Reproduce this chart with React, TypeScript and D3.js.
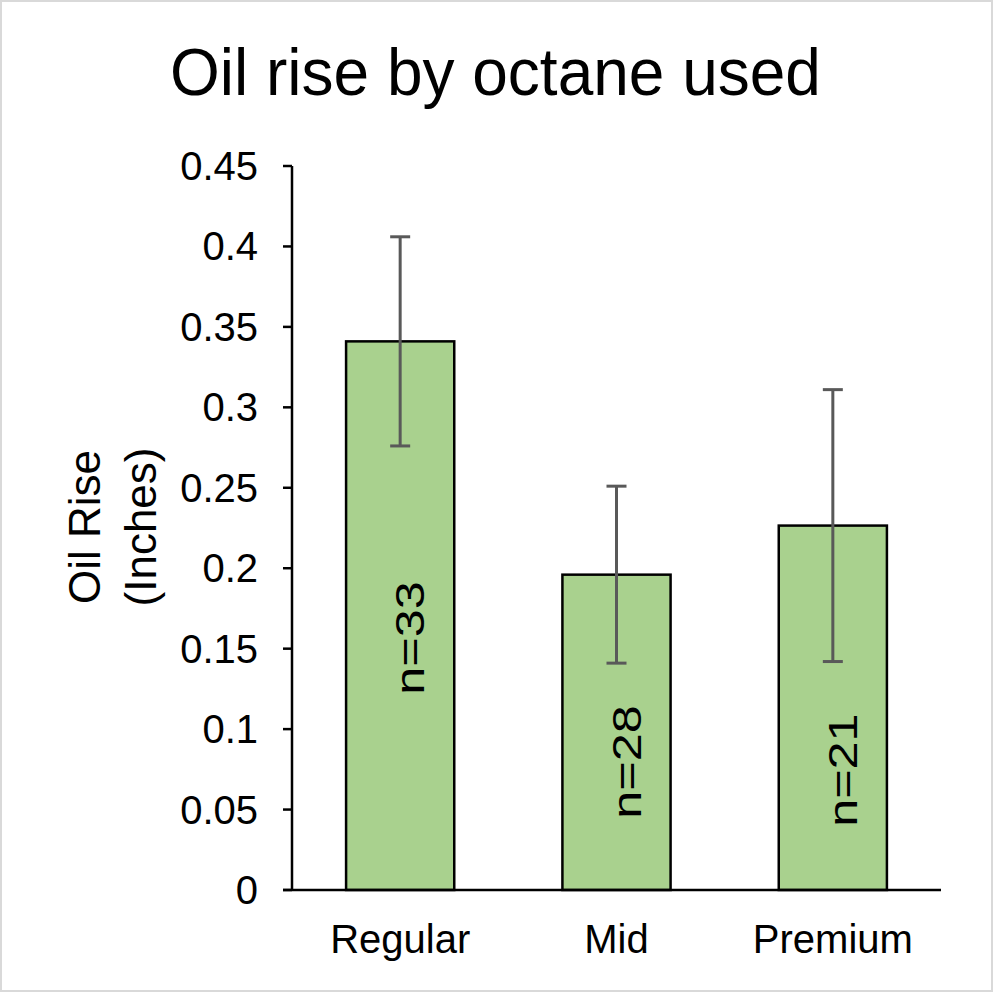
import React from "react";
import * as d3 from "d3";

const categories = ["Regular", "Mid", "Premium"];
const means = [0.341, 0.196, 0.2265];
const errors = [0.065, 0.055, 0.0845];
const nLabels = ["n=33", "n=28", "n=21"];
const nLabelAt = [0.1566, 0.0796, 0.0745];
const yTicks = [0, 0.05, 0.1, 0.15, 0.2, 0.25, 0.3, 0.35, 0.4, 0.45];
const yTickLabels = ["0", "0.05", "0.1", "0.15", "0.2", "0.25", "0.3", "0.35", "0.4", "0.45"];
const title = "Oil rise by octane used";
const yTitleLines = ["Oil Rise", "(Inches)"];

const W = 993;
const H = 992;
const M = { left: 292, right: 941, top: 166, bottom: 890 };
const FONT = "'Liberation Sans', Arial, sans-serif";

export default function App() {
  const x = d3.scaleBand<string>().domain(categories).range([M.left, M.right]).paddingInner(0.5).paddingOuter(0.25);
  const y = d3.scaleLinear().domain([0, 0.45]).range([M.bottom, M.top]);
  const bw = x.bandwidth();
  return (
    <svg width={W} height={H} style={{ position: "absolute", left: 0, top: 0, background: "#fff" }}>
      <rect x={1} y={1} width={W - 2} height={H - 2} fill="#fff" stroke="#d9d9d9" strokeWidth={2} />
      <text transform="translate(495.5,95) scale(1,1.05)" textAnchor="middle" fontFamily={FONT} fontSize={64} fill="#000">{title}</text>
      {yTitleLines.map((t, i) => (
        <text key={t} transform={`translate(${100 + i * 56},527) rotate(-90)`} textAnchor="middle" fontFamily={FONT} fontSize={44} fill="#000">{t}</text>
      ))}
      {yTicks.map((v, i) => (
        <g key={v}>
          <line x1={M.left - 9} x2={M.left} y1={y(v)} y2={y(v)} stroke="#000" strokeWidth={2.5} />
          <text x={258} y={y(v)} dy="0.35em" textAnchor="end" fontFamily={FONT} fontSize={40} fill="#000">{yTickLabels[i]}</text>
        </g>
      ))}
      {categories.map((c, i) => {
        const x0 = x(c)!;
        const cx = x0 + bw / 2;
        return (
          <g key={c}>
            <rect x={x0} y={y(means[i])} width={bw} height={y(0) - y(means[i])} fill="#a9d18e" stroke="#000" strokeWidth={2.5} />
            <text transform={`translate(${cx + 24},${y(nLabelAt[i])}) rotate(-90) scale(1.26,1)`} textAnchor="middle" fontFamily={FONT} fontSize={40} fill="#000">{nLabels[i]}</text>
            <line x1={cx} x2={cx} y1={y(means[i] + errors[i])} y2={y(means[i] - errors[i])} stroke="#595959" strokeWidth={3} />
            <line x1={cx - 10} x2={cx + 10} y1={y(means[i] + errors[i])} y2={y(means[i] + errors[i])} stroke="#595959" strokeWidth={3} />
            <line x1={cx - 10} x2={cx + 10} y1={y(means[i] - errors[i])} y2={y(means[i] - errors[i])} stroke="#595959" strokeWidth={3} />
            <text x={cx} y={953} textAnchor="middle" fontFamily={FONT} fontSize={40} fill="#000">{c}</text>
          </g>
        );
      })}
      <line x1={M.left} x2={M.left} y1={M.top} y2={M.bottom} stroke="#000" strokeWidth={2.5} />
      <line x1={M.left - 9} x2={M.right} y1={M.bottom} y2={M.bottom} stroke="#000" strokeWidth={2.5} />
    </svg>
  );
}
